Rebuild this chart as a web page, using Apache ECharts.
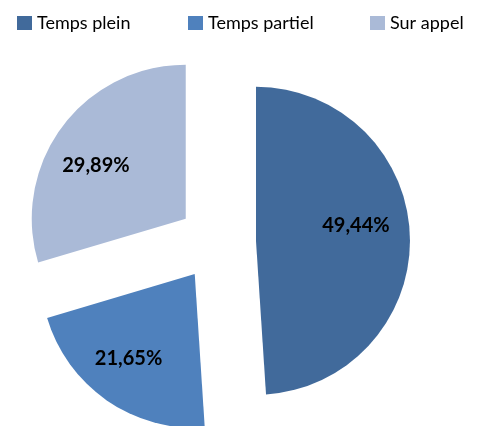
<!DOCTYPE html>
<html><head><meta charset="utf-8">
<script src="https://cdn.jsdelivr.net/npm/echarts@6/dist/echarts.min.js"></script>
<style>html,body{margin:0;padding:0;background:#fff}#c{width:490px;height:426px}</style>
</head><body><div id="c"></div>
<script>
const categories = ['Temps plein', 'Temps partiel', 'Sur appel'];
const values = [49.44, 21.65, 29.89];

// styling
const colors = ['#416A9B', '#4F81BD', '#AABAD7'];
const legendLeft = [17, 188, 370];
const labelShift = [[-7, -12], [-5, -3], [-4, 11]];

const chart = echarts.init(document.getElementById('c'), null, {renderer: 'canvas'});
const fmt = p => p.value.toFixed(2).replace('.', ',') + '%';
const mk = (transparent) => categories.map((n, i) => ({
  name: n, value: values[i], selected: true,
  itemStyle: {color: transparent ? 'rgba(0,0,0,0)' : colors[i]}
}));
const C = [217, 242];
chart.setOption({
  animation: false,
  legend: categories.map((n, i) => ({
    data: [n], left: legendLeft[i], top: 14, padding: 0, itemWidth: 15, itemHeight: 14, itemGap: 0,
    icon: 'rect', selectedMode: false,
    textStyle: {fontFamily: 'Lato', fontSize: 18, color: '#000'}
  })),
  series: [
    {
      type: 'pie', center: C, radius: [0, 154], startAngle: 90, clockwise: true,
      selectedMode: 'multiple', selectedOffset: 39, silent: true,
      label: {show: false}, labelLine: {show: false},
      itemStyle: {borderWidth: 0},
      data: mk(false)
    },
    {
      type: 'pie', center: C, radius: [54, 154], startAngle: 90, clockwise: true,
      selectedMode: 'multiple', selectedOffset: 39, silent: true,
      label: {show: true, position: 'inside', formatter: fmt, fontFamily: 'Lato', fontWeight: 'bold', fontSize: 20, color: '#000'},
      labelLine: {show: false},
      labelLayout: p => ({dx: labelShift[p.dataIndex][0], dy: labelShift[p.dataIndex][1]}),
      itemStyle: {borderWidth: 0},
      data: mk(true)
    }
  ]
});
</script></body></html>
